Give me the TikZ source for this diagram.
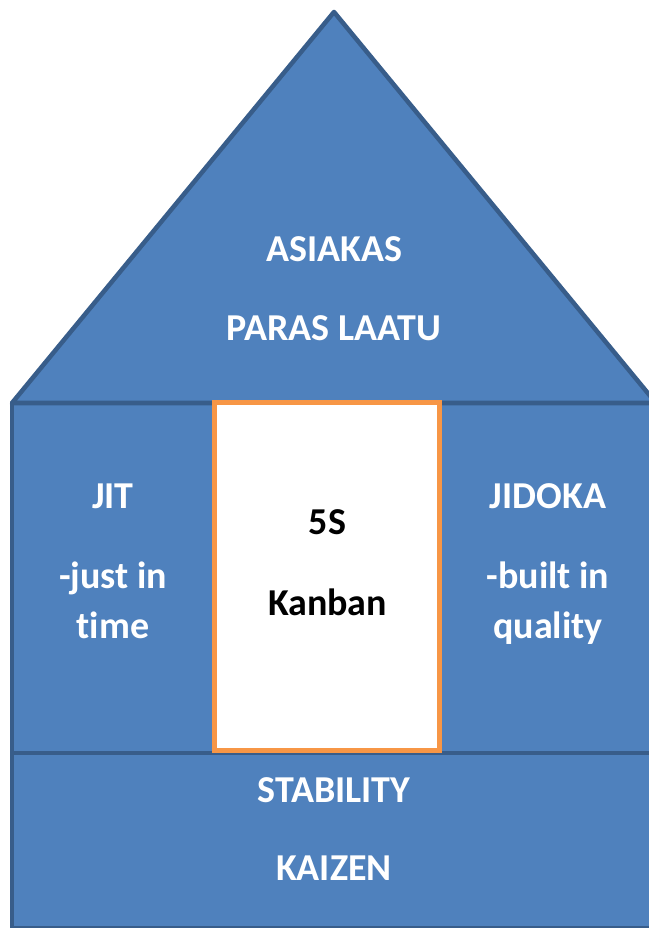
\documentclass[tikz,border=0pt]{standalone}
\usepackage{fontspec}
\setmainfont{Carlito}[Ligatures=NoCommon]

\definecolor{houseblue}{RGB}{79,129,189}
\definecolor{houseline}{RGB}{56,93,138}
\definecolor{doororange}{RGB}{247,150,70}

\tikzset{every picture/.style={line width=0.75pt}}
\tikzset{
  part/.style={draw=houseline,fill=houseblue,line width=3.4pt,line join=round},
  door/.style={draw=doororange,fill=white,line width=3.4pt},
  label/.style={anchor=base,inner sep=0.75pt,font=\fontsize{28.5}{34}\selectfont\bfseries,text=white},
  doorlabel/.style={label,text=black}
}

\begin{document}
\begin{tikzpicture}[x=0.75pt,y=0.75pt,yscale=-1,xscale=1]
\useasboundingbox (0,0) rectangle (649,928);
\clip (0,0) rectangle (649,928);

%Shape: Rectangle [id:walls]
\draw [part] (12,403) rectangle (658,753) ;
%Shape: Rectangle [id:base]
\draw [part] (12,753) rectangle (658,928) ;
%Shape: Triangle [id:roof]
\draw [part] (12,403) -- (334,12) -- (656,403) -- cycle ;
%Shape: Rectangle [id:door]
\draw [door] (214.5,402.5) rectangle (439.5,750.5) ;

% Text Node
\node (asiakas) [label] at (334,261) {ASIAKAS};
% Text Node
\node (laatu) [label] at (334,340) {PARAS LAATU};
% Text Node
\node (jit) [label] at (113,508) {JIT};
% Text Node
\node (justin) [label] at (113,588) {-just in};
% Text Node
\node (time) [label] at (113,638) {time};
% Text Node
\node (fives) [doorlabel] at (327.5,534) {5S};
% Text Node
\node (kanban) [doorlabel] at (327.5,615) {Kanban};
% Text Node
\node (jidoka) [label] at (548,508) {JIDOKA};
% Text Node
\node (builtin) [label] at (548,588) {-built in};
% Text Node
\node (quality) [label] at (548,638) {quality};
% Text Node
\node (stability) [label] at (334,802) {STABILITY};
% Text Node
\node (kaizen) [label] at (334,880) {KAIZEN};

\end{tikzpicture}
\end{document}
